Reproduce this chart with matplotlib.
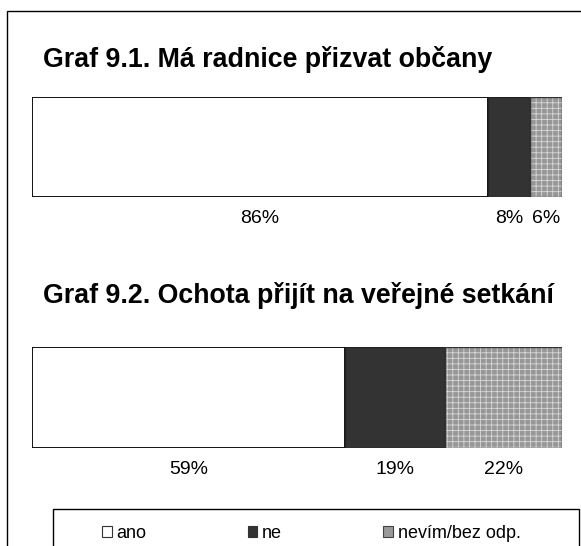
import matplotlib
matplotlib.use("Agg")
import matplotlib.pyplot as plt
from matplotlib.patches import Rectangle, Patch


categories = ["ano", "ne", "nevím/bez odp."]
graf1_values = [86, 8, 6]
graf2_values = [59, 19, 22]
titles = ["Graf 9.1. Má radnice přizvat občany",
          "Graf 9.2. Ochota přijít na veřejné setkání"]

W, H = 581, 546


def px(x, y):
    """Pixel position (from top-left) to figure fraction."""
    return x / W, 1 - y / H


def draw_bar(ax, values):
    left = 0
    for i, v in enumerate(values):
        if i == 0:
            ax.barh(0, v, left=left, height=1, color="white",
                    edgecolor="black", linewidth=1.3)
        elif i == 1:
            ax.barh(0, v, left=left, height=1, color="#333333",
                    edgecolor="#222222", linewidth=1.0)
        else:
            # gray with white grid, then dark outline on top
            ax.barh(0, v, left=left, height=1, color="#979797",
                    edgecolor="#d8d8d8", hatch="+++", linewidth=0)
            ax.barh(0, v, left=left, height=1, fill=False,
                    edgecolor="#333333", linewidth=1.0)
        ax.annotate("%d%%" % v, xy=(left + v / 2, 0),
                    xycoords=("data", "axes fraction"),
                    xytext=(0, -18.5), textcoords="offset points",
                    ha="center", va="baseline", fontsize=14)
        left += v
    ax.set_xlim(0, 100)
    ax.set_ylim(-0.5, 0.5)
    ax.axis("off")


def main():
    plt.rcParams["font.family"] = ["Liberation Sans", "DejaVu Sans"]
    plt.rcParams["hatch.linewidth"] = 0.6

    fig = plt.figure(figsize=(W / 100, H / 100), dpi=100)

    # outer frame, right and bottom edges fall outside the picture
    fig.patches.append(Rectangle(px(7, 600), 600 / W, 589 / H,
                                 transform=fig.transFigure, fill=False,
                                 edgecolor="black", linewidth=1.0))

    fig.text(*px(43, 67), titles[0], fontsize=19.3, fontweight="bold",
             va="baseline")
    fig.text(*px(43, 303), titles[1], fontsize=19.3, fontweight="bold",
             va="baseline")

    x0, y0 = px(32, 197)
    ax1 = fig.add_axes([x0, y0, 530 / W, 100 / H])
    draw_bar(ax1, graf1_values)

    x0, y0 = px(32, 448)
    ax2 = fig.add_axes([x0, y0, 530 / W, 101 / H])
    draw_bar(ax2, graf2_values)

    # legend box, bottom cut off
    fig.patches.append(Rectangle(px(53, 600), 526 / W, 91 / H,
                                 transform=fig.transFigure, fill=False,
                                 edgecolor="black", linewidth=1.0))
    handles = [Patch(facecolor="white", edgecolor="#333333", linewidth=0.8),
               Patch(facecolor="#333333", edgecolor="#333333", linewidth=0.8),
               Patch(facecolor="#999999", edgecolor="#444444", linewidth=0.8)]
    fig.legend(handles, categories, loc="center left",
               bbox_to_anchor=px(102, 533), ncol=3, frameon=False,
               fontsize=13, borderpad=0, borderaxespad=0,
               handlelength=0.55, handleheight=0.55, handletextpad=0.25,
               columnspacing=5.6)

    fig.savefig("out.png", dpi=100)


if "__main__" == __name__:
    main()
